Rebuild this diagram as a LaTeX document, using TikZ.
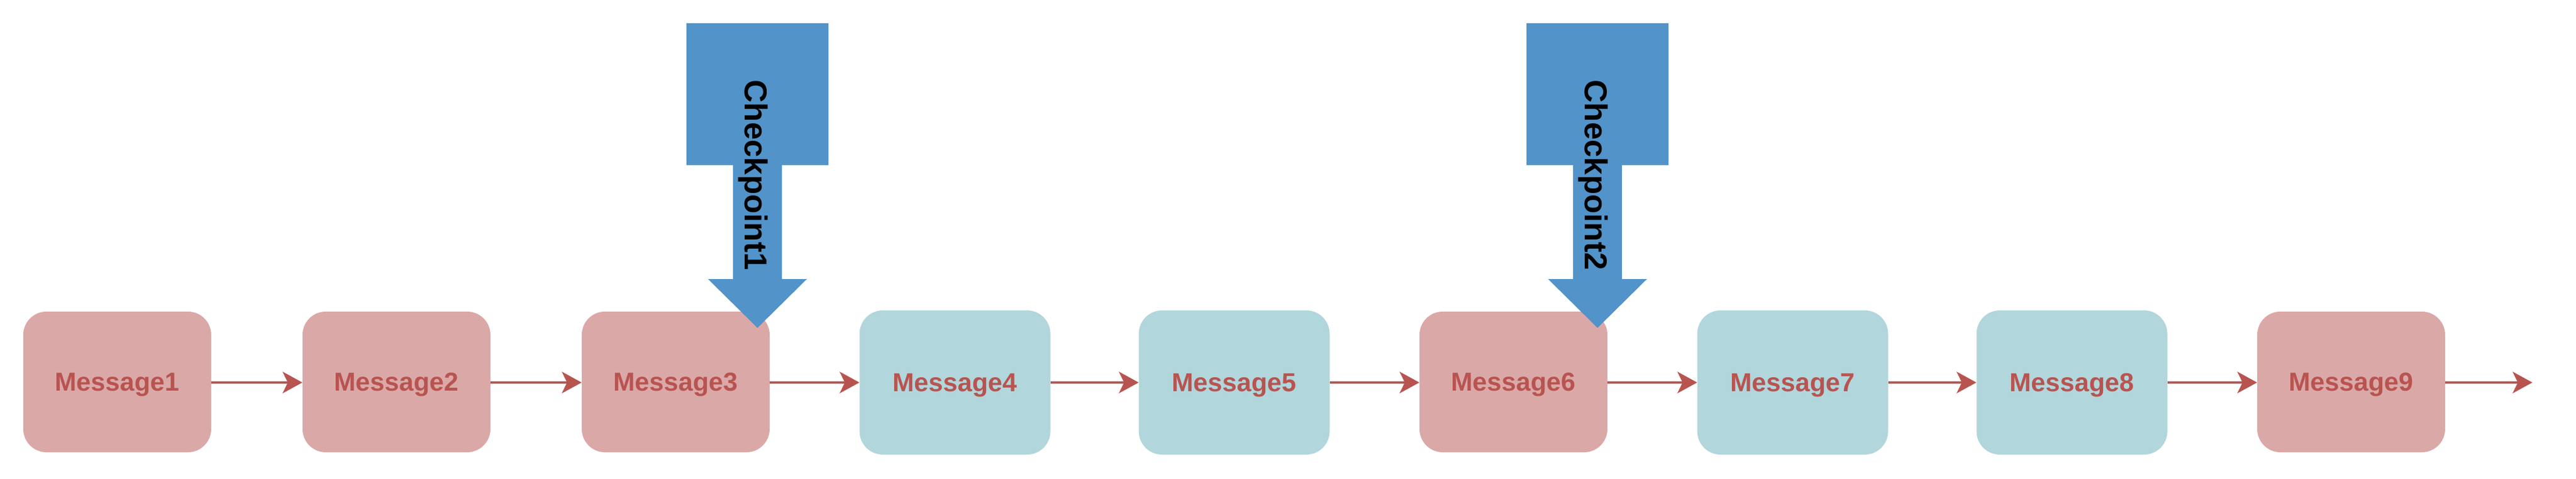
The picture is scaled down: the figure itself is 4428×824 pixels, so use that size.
\documentclass[tikz,border=0pt]{standalone}
\usepackage{fontspec}
\setmainfont{Liberation Sans}
\usetikzlibrary{arrows.meta}
\definecolor{pinkfill}{HTML}{DBA8A8}
\definecolor{bluefill}{HTML}{B1D6DB}
\definecolor{msgred}{HTML}{B85450}
\definecolor{cpblue}{HTML}{5293C9}
\tikzset{
  msgbase/.style={rounded corners=40pt, inner sep=0pt, text=msgred, text depth=0pt,
    font=\fontsize{44.7}{50}\selectfont\bfseries},
  pinkmsg/.style={msgbase, fill=pinkfill, minimum width=323pt, minimum height=242pt},
  bluemsg/.style={msgbase, fill=bluefill, minimum width=328pt, minimum height=248pt},
  flow/.style={draw=msgred, line width=3.7pt,
    -{Stealth[length=34pt, width=37pt, inset=9pt]}},
  cparrow/.style={fill=cpblue, draw=none},
  cptext/.style={rotate=-90, inner sep=0pt, text=black, text depth=0pt,
    font=\fontsize{54.5}{60}\selectfont\bfseries}
}
\begin{document}
\begin{tikzpicture}[x=1pt, y=-1pt]
\useasboundingbox (0,0) rectangle (4428,824);
% message boxes
\node[pinkmsg] (m1) at (201.5,657) {Message1};
\node[pinkmsg] (m2) at (681.5,657) {Message2};
\node[pinkmsg] (m3) at (1161.5,657) {Message3};
\node[bluemsg] (m4) at (1641.5,658) {Message4};
\node[bluemsg] (m5) at (2121.5,658) {Message5};
\node[pinkmsg] (m6) at (2601.5,657) {Message6};
\node[bluemsg] (m7) at (3081.5,658) {Message7};
\node[bluemsg] (m8) at (3561.5,658) {Message8};
\node[pinkmsg] (m9) at (4041.5,657) {Message9};
\coordinate (end) at (4353,658);
% connectors
\draw[flow] (m1.east |- 0,658) -- (m2.west |- 0,658);
\draw[flow] (m2.east |- 0,658) -- (m3.west |- 0,658);
\draw[flow] (m3.east |- 0,658) -- (m4.west |- 0,658);
\draw[flow] (m4.east |- 0,658) -- (m5.west |- 0,658);
\draw[flow] (m5.east |- 0,658) -- (m6.west |- 0,658);
\draw[flow] (m6.east |- 0,658) -- (m7.west |- 0,658);
\draw[flow] (m7.east |- 0,658) -- (m8.west |- 0,658);
\draw[flow] (m8.east |- 0,658) -- (m9.west |- 0,658);
\draw[flow] (m9.east |- 0,658) -- (end);
% checkpoint arrows
\foreach \cx/\nm/\lbl in {1302/cpa/Checkpoint1, 2746/cpb/Checkpoint2}{
  \fill[cparrow] (\cx-122,40) -- (\cx+122,40) -- (\cx+122,284) -- (\cx+42,284)
    -- (\cx+42,480) -- (\cx+85,480) -- (\cx,564) -- (\cx-85,480) -- (\cx-42,480)
    -- (\cx-42,284) -- (\cx-122,284) -- cycle;
  \node[cptext] (\nm) at (\cx-2,301) {\lbl};
}
\end{tikzpicture}
\end{document}
